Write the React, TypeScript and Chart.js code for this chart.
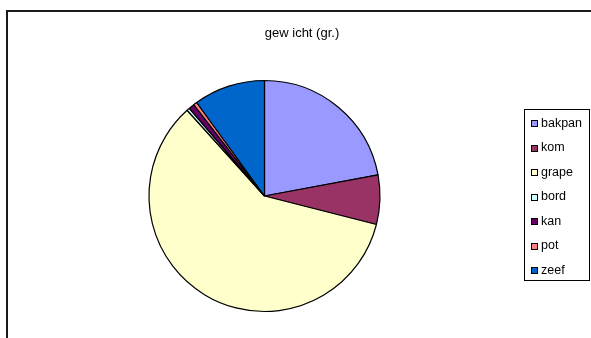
import React, { useEffect, useRef } from "react";
import { Chart, registerables } from "chart.js";

Chart.register(...registerables);

const titleText = "gew icht (gr.)";
const categories = ["bakpan", "kom", "grape", "bord", "kan", "pot", "zeef"];
const weights = [22.1, 6.9, 59.4, 0.4, 0.8, 0.5, 10.0];
const colors = ["#9999FF", "#993366", "#FFFFCC", "#CCFFFF", "#660066", "#FF8080", "#0066CC"];

const FONT = "Liberation Sans, Arial, sans-serif";

const framePlugin = {
  id: "frame",
  beforeDraw(chart: any) {
    const ctx = chart.ctx;
    ctx.save();
    ctx.fillStyle = "#ffffff";
    ctx.fillRect(0, 0, chart.width, chart.height);
    ctx.fillStyle = "#1a1a1a";
    ctx.fillRect(6, 10, chart.width - 6, 2);
    ctx.fillRect(6, 10, 2, chart.height - 10);
    ctx.restore();
  },
  afterDraw(chart: any) {
    const ctx = chart.ctx;
    ctx.save();
    // title
    ctx.fillStyle = "#000";
    ctx.font = `13px ${FONT}`;
    ctx.textAlign = "center";
    ctx.textBaseline = "middle";
    ctx.fillText(titleText, 302, 33);
    // legend
    const labels: string[] = chart.data.labels;
    const bg: string[] = chart.data.datasets[0].backgroundColor;
    ctx.strokeStyle = "#000";
    ctx.lineWidth = 1;
    ctx.strokeRect(524.5, 109.5, 65, 171);
    ctx.textAlign = "left";
    ctx.font = `12.5px ${FONT}`;
    labels.forEach((lab, i) => {
      const y = 123.5 + i * 24.5;
      ctx.fillStyle = bg[i];
      ctx.fillRect(531, Math.round(y - 3.5), 7, 7);
      ctx.strokeRect(531.5, Math.round(y - 3.5) + 0.5, 6, 6);
      ctx.fillStyle = "#000";
      ctx.fillText(lab, 541, y);
    });
    ctx.restore();
  },
};

export default function App() {
  const ref = useRef<HTMLCanvasElement | null>(null);
  useEffect(() => {
    if (!ref.current) return;
    const chart = new Chart(ref.current, {
      type: "pie",
      data: {
        labels: categories,
        datasets: [
          {
            data: weights,
            backgroundColor: colors,
            borderColor: "#000",
            borderWidth: 1.2,
          },
        ],
      },
      options: {
        animation: false,
        responsive: false,
        devicePixelRatio: 1,
        radius: 115.5,
        layout: { padding: { left: 148, right: 210, top: 80, bottom: 26 } },
        plugins: {
          legend: { display: false },
          title: { display: false },
          tooltip: { enabled: false },
        },
      } as any,
      plugins: [framePlugin],
    });
    return () => chart.destroy();
  }, []);
  return (
    <canvas
      ref={ref}
      width={591}
      height={338}
      style={{ position: "fixed", left: 0, top: 0, width: 591, height: 338 }}
    />
  );
}
